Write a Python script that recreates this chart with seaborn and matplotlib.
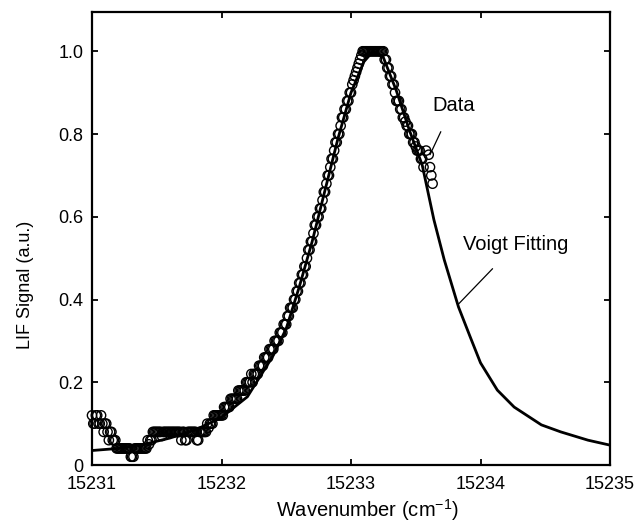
import numpy as np
import pandas as pd
import matplotlib
matplotlib.use("Agg")
import matplotlib.pyplot as plt
import seaborn as sns

# ---- data ----
scan1_start = 15231.00
scan2_start = 15231.01
scan_step = 0.02
scan1_signal = [
    0.12, 0.10, 0.12, 0.10, 0.10, 0.10, 0.08, 0.08, 0.06, 0.06,
    0.04, 0.04, 0.04, 0.04, 0.04, 0.02, 0.02, 0.04, 0.04, 0.04,
    0.04, 0.04, 0.05, 0.06, 0.08, 0.08, 0.08, 0.07, 0.08, 0.08,
    0.08, 0.08, 0.08, 0.08, 0.08, 0.08, 0.06, 0.08, 0.08, 0.08,
    0.08, 0.06, 0.08, 0.08, 0.08, 0.09, 0.10, 0.12, 0.12, 0.12,
    0.12, 0.14, 0.14, 0.14, 0.16, 0.16, 0.16, 0.18, 0.18, 0.18,
    0.20, 0.20, 0.20, 0.22, 0.22, 0.24, 0.24, 0.26, 0.26, 0.28,
    0.28, 0.30, 0.30, 0.32, 0.34, 0.34, 0.36, 0.38, 0.40, 0.42,
    0.44, 0.46, 0.48, 0.50, 0.52, 0.54, 0.58, 0.60, 0.62, 0.64,
    0.66, 0.70, 0.72, 0.74, 0.78, 0.80, 0.82, 0.84, 0.86, 0.88,
    0.90, 0.93, 0.95, 0.97, 0.99, 1.00, 1.00, 1.00, 1.00, 1.00,
    1.00, 1.00, 1.00, 0.98, 0.96, 0.94, 0.92, 0.90, 0.88, 0.86,
    0.84, 0.83, 0.82, 0.80, 0.78, 0.77, 0.76, 0.74, 0.72,
]
scan2_signal = [
    0.10, 0.12, 0.10, 0.12, 0.08, 0.10, 0.06, 0.08, 0.06, 0.04,
    0.04, 0.04, 0.04, 0.04, 0.04, 0.02, 0.04, 0.04, 0.04, 0.04,
    0.04, 0.06, 0.06, 0.08, 0.08, 0.08, 0.08, 0.08, 0.08, 0.08,
    0.08, 0.08, 0.08, 0.08, 0.06, 0.08, 0.06, 0.08, 0.08, 0.08,
    0.06, 0.08, 0.08, 0.08, 0.10, 0.10, 0.10, 0.12, 0.12, 0.12,
    0.12, 0.14, 0.14, 0.16, 0.16, 0.16, 0.18, 0.18, 0.18, 0.20,
    0.20, 0.22, 0.22, 0.22, 0.24, 0.24, 0.26, 0.26, 0.28, 0.28,
    0.30, 0.30, 0.32, 0.32, 0.34, 0.36, 0.38, 0.38, 0.40, 0.42,
    0.44, 0.46, 0.48, 0.52, 0.54, 0.56, 0.58, 0.60, 0.62, 0.66,
    0.68, 0.70, 0.74, 0.76, 0.78, 0.80, 0.84, 0.86, 0.88, 0.90,
    0.92, 0.94, 0.96, 0.98, 1.00, 1.00, 1.00, 1.00, 1.00, 1.00,
    1.00, 1.00, 1.00, 0.98, 0.96, 0.94, 0.92, 0.88, 0.88, 0.86,
    0.84, 0.82, 0.80, 0.80, 0.78, 0.76, 0.76, 0.74,
]
tail_wavenumber = [15233.58, 15233.60, 15233.61, 15233.62, 15233.63]
tail_signal = [0.76, 0.75, 0.72, 0.70, 0.68]

fit_wavenumber = [15231.00, 15231.20, 15231.40, 15231.60, 15231.80, 15232.00,
                  15232.20, 15232.40, 15232.50, 15232.60, 15232.70, 15232.80,
                  15232.90, 15233.00, 15233.10, 15233.17, 15233.25, 15233.35,
                  15233.45, 15233.55, 15233.64, 15233.72, 15233.83, 15233.92,
                  15234.00, 15234.13, 15234.26, 15234.47, 15234.62, 15234.83,
                  15235.00]
fit_signal = [0.035, 0.040, 0.050, 0.065, 0.085, 0.115,
              0.165, 0.265, 0.33, 0.43, 0.54, 0.665,
              0.79, 0.90, 0.975, 1.00, 0.985, 0.905,
              0.81, 0.725, 0.593, 0.496, 0.382, 0.31,
              0.247, 0.181, 0.14, 0.097, 0.08, 0.06,
              0.048]

x_ticks = [15231, 15232, 15233, 15234, 15235]
y_ticks = [0, 0.2, 0.4, 0.6, 0.8, 1.0]
y_ticklabels = ["0", "0.2", "0.4", "0.6", "0.8", "1.0"]

scan1_wn = [scan1_start + scan_step * i for i in range(len(scan1_signal))]
scan2_wn = [scan2_start + scan_step * i for i in range(len(scan2_signal))]
df_data = pd.DataFrame({
    "wn": scan1_wn + scan2_wn + tail_wavenumber,
    "sig": scan1_signal + scan2_signal + tail_signal,
})
df_fit = pd.DataFrame({"wn": fit_wavenumber, "sig": fit_signal})

# ---- style ----
sns.set_theme(style="ticks")
plt.rcParams["font.family"] = ["Liberation Sans", "DejaVu Sans"]
plt.rcParams["mathtext.fontset"] = "custom"
plt.rcParams["mathtext.rm"] = "Liberation Sans"
plt.rcParams["mathtext.it"] = "Liberation Sans"
for k in ["text.color", "axes.labelcolor", "xtick.color", "ytick.color", "axes.edgecolor"]:
    plt.rcParams[k] = "black"

fig = plt.figure(figsize=(6.42, 5.27), dpi=100)
ax = fig.add_axes([92 / 642, 62 / 527, (610 - 92) / 642, (465 - 12) / 527])

sns.lineplot(data=df_fit, x="wn", y="sig", ax=ax, color="black", lw=2.0,
             sort=False, estimator=None, zorder=2)
sns.scatterplot(data=df_data, x="wn", y="sig", ax=ax, marker="o", s=45,
                facecolors="none", edgecolor="black", linewidth=1.0,
                zorder=3, clip_on=False)

ax.set_xlim(15231, 15235)
ax.set_ylim(0, 1.095)
ax.set_xticks(x_ticks)
ax.set_xticklabels([str(t) for t in x_ticks])
ax.set_yticks(y_ticks)
ax.set_yticklabels(y_ticklabels)

for s in ax.spines.values():
    s.set_linewidth(1.6)
    s.set_color("black")
    s.set_visible(True)

ax.tick_params(axis="both", direction="in", length=4, width=1.3, colors="black",
               labelsize=13, top=True, right=True)
ax.tick_params(axis="x", pad=8)
ax.tick_params(axis="y", pad=6)

ax.set_xlabel(r"Wavenumber (cm$^{\mathregular{-1}}$)", fontsize=14.5)
ax.xaxis.set_label_coords((367 - 92) / 518, (465 - 497) / 453)
ax.set_ylabel("LIF Signal (a.u.)", fontsize=13)
ax.yaxis.set_label_coords((34 - 92) / 518, (465 - 285) / 453)

ax.annotate("Data", xy=(15233.61, 0.75), xytext=(15233.79, 0.87),
            fontsize=14.5, ha="center", va="center",
            arrowprops=dict(arrowstyle="-", color="black", lw=0.9,
                            shrinkA=11, shrinkB=0))
ax.annotate("Voigt Fitting", xy=(15233.83, 0.389), xytext=(15234.27, 0.532),
            fontsize=14.5, ha="center", va="center",
            arrowprops=dict(arrowstyle="-", color="black", lw=0.9,
                            shrinkA=11, shrinkB=0))

fig.savefig("out.png", dpi=100)
